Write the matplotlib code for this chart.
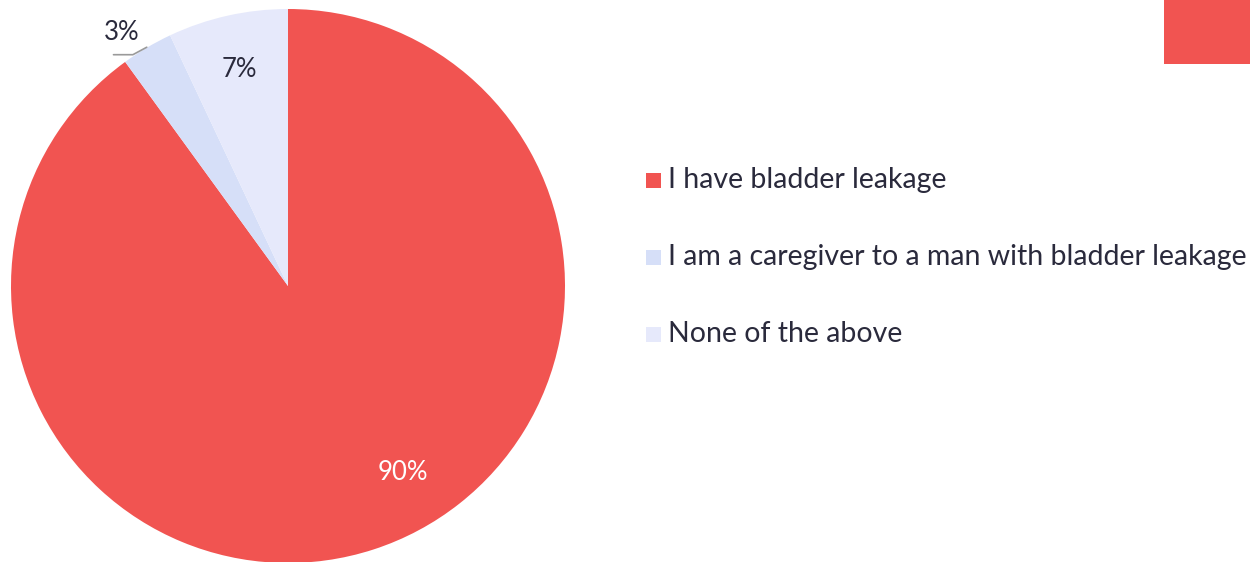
import matplotlib
matplotlib.use("Agg")
import matplotlib.pyplot as plt
from matplotlib.patches import Rectangle

categories = ["I have bladder leakage",
              "I am a caregiver to a man with bladder leakage",
              "None of the above"]
values = [90, 3, 7]
colors = ["#F15451", "#D6DFF8", "#E6E9FB"]
pct_labels = ["90%", "3%", "7%"]

W, H = 1250, 562
fig = plt.figure(figsize=(W / 100, H / 100), dpi=100)
fig.patch.set_facecolor("white")

FONT = ["Lato", "DejaVu Sans"]
TXT = "#2A2A3C"

# pie axes: center (288,286), radius 277 px
cx, cy, r = 288, 286, 277
ax = fig.add_axes([(cx - r) / W, (H - cy - r) / H, 2 * r / W, 2 * r / H])

wedges, texts, autotexts = ax.pie(values, colors=colors, startangle=90,
                                  counterclock=False, radius=1,
                                  autopct="%1.0f%%", pctdistance=0.8,
                                  wedgeprops=dict(linewidth=0))
ax.set_xlim(-1, 1)
ax.set_ylim(-1, 1)
ax.set_aspect("equal")
ax.axis("off")

for t in autotexts:
    t.set_fontfamily(FONT)
    t.set_fontsize(18.5)
    t.set_fontweight("normal")
    t.set_color(TXT)
# 90% label
autotexts[0].set_position((0.415, -0.675))
autotexts[0].set_color("white")
# 3% label outside with leader line
autotexts[1].set_position((-0.6, 0.915))
ax.plot([-0.63, -0.56, -0.51], [0.835, 0.835, 0.862], color="#9A9A9A", lw=1.2,
        solid_capstyle="round")

# legend
ys = [180, 257, 334]
for lab, col, y in zip(categories, colors, ys):
    fig.patches.append(Rectangle(((646) / W, (H - y - 7.5) / H), 15 / W, 15 / H,
                                 transform=fig.transFigure, facecolor=col,
                                 edgecolor="none"))
    fig.text(668 / W, (H - y) / H, lab, fontsize=20.5, family=FONT, color=TXT,
             va="center", ha="left")

# red box in top-right corner
fig.patches.append(Rectangle((1164 / W, (H - 64) / H), 86 / W, 64 / H,
                             transform=fig.transFigure, facecolor=colors[0],
                             edgecolor="none"))

fig.savefig("out.png", dpi=100, facecolor="white")
